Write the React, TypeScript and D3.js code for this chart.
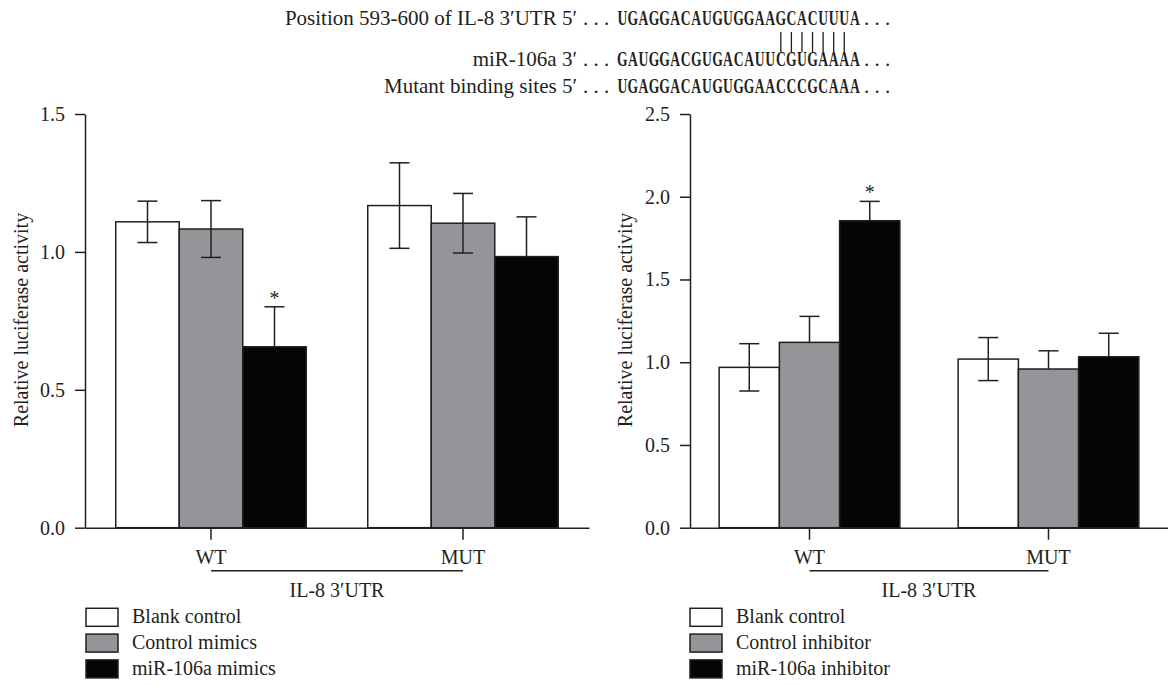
import React, { useRef, useEffect } from "react";
import * as d3 from "d3";

const groups = ["WT", "MUT"];

const mimicsSeries = ["Blank control", "Control mimics", "miR-106a mimics"];
const mimicsMeans = [
  [1.109, 1.083, 0.656],
  [1.168, 1.104, 0.983],
];
const mimicsErrors = [
  [0.075, 0.103, 0.145],
  [0.155, 0.108, 0.144],
];
const mimicsTicks = [0, 0.5, 1.0, 1.5];

const inhibitorSeries = ["Blank control", "Control inhibitor", "miR-106a inhibitor"];
const inhibitorMeans = [
  [0.969, 1.12, 1.855],
  [1.019, 0.959, 1.033],
];
const inhibitorErrors = [
  [0.143, 0.157, 0.117],
  [0.13, 0.11, 0.142],
];
const inhibitorTicks = [0, 0.5, 1.0, 1.5, 2.0, 2.5];

const seqWild = "UGAGGACAUGUGGAAGCACUUUA";
const seqMir = "GAUGGACGUGACAUUCGUGAAAA";
const seqMutant = "UGAGGACAUGUGGAACCCGCAAA";
const pairedFrom = 15;
const pairedTo = 21;

const fills = ["#ffffff", "#939598", "#050505"];
const INK = "#231f20";
const FONT = "'Liberation Serif', 'Times New Roman', serif";
const Y0 = 527.7;
const YTOP = 114;
const LABEL_END = 577;
const SEQ_X0 = 617;
const SEQ_PITCH = 10.57;

function Panel({ series, means, errors, lower, yMax, ticks, left, right, legendX, labelX }) {
  const xAxisRef = useRef<SVGGElement>(null);
  const yAxisRef = useRef<SVGGElement>(null);

  const x = d3.scaleBand().domain(groups).range([left, right]).paddingInner(0.244).paddingOuter(0.122);
  const xs = d3.scaleBand().domain(series).range([0, x.bandwidth()]);
  const y = d3.scaleLinear().domain([0, yMax]).range([Y0, YTOP]);

  useEffect(() => {
    const ya = d3.axisLeft(y).tickValues(ticks).tickSize(10).tickPadding(10).tickSizeOuter(0).tickFormat(d3.format(".1f"));
    const xa = d3.axisBottom(x).tickSize(12).tickPadding(10).tickSizeOuter(0);
    [d3.select(yAxisRef.current).call(ya), d3.select(xAxisRef.current).call(xa)].forEach((g: any) => {
      g.attr("font-family", FONT).attr("font-size", 20);
      g.selectAll("line, path").attr("stroke", INK).attr("stroke-width", 1.5);
      g.selectAll("text").attr("fill", INK);
    });
  });

  const cx = (g: string) => (x(g) as number) + x.bandwidth() / 2;
  const capW = 10;

  return (
    <g>
      {groups.map((g, gi) => (
        <g key={g} transform={`translate(${x(g)},0)`}>
          {series.map((s, si) => {
            const m = means[gi][si];
            const e = errors[gi][si];
            const bx = xs(s) as number;
            const mid = bx + xs.bandwidth() / 2;
            return (
              <g key={s}>
                <rect x={bx} y={y(m)} width={xs.bandwidth()} height={Y0 - y(m)} fill={fills[si]} stroke={INK} strokeWidth={1.5} />
                <line x1={mid} x2={mid} y1={y(m + e)} y2={lower[si] ? y(m - e) : y(m)} stroke={INK} strokeWidth={1.5} />
                <line x1={mid - capW} x2={mid + capW} y1={y(m + e)} y2={y(m + e)} stroke={INK} strokeWidth={1.5} />
                {lower[si] && (
                  <line x1={mid - capW} x2={mid + capW} y1={y(m - e)} y2={y(m - e)} stroke={INK} strokeWidth={1.5} />
                )}
                {gi === 0 && si === 2 && (
                  <text x={mid} y={y(m + e) - 2} textAnchor="middle" fontSize={20} fill={INK}>*</text>
                )}
              </g>
            );
          })}
        </g>
      ))}
      <g ref={yAxisRef} transform={`translate(${left},0)`} />
      <g ref={xAxisRef} transform={`translate(0,${Y0})`} />
      <line x1={cx("WT")} x2={cx("MUT")} y1={570.7} y2={570.7} stroke={INK} strokeWidth={1.5} />
      <text x={(cx("WT") + cx("MUT")) / 2} y={597} textAnchor="middle" fontSize={20} fill={INK}>IL-8 3′UTR</text>
      <text transform={`translate(${labelX},320) rotate(-90)`} textAnchor="middle" dominantBaseline="central" fontSize={20} fill={INK}>
        Relative luciferase activity
      </text>
      {series.map((s, si) => (
        <g key={s} transform={`translate(${legendX},${608.3 + si * 25.8})`}>
          <rect x={0} y={0} width={32} height={18} fill={fills[si]} stroke={INK} strokeWidth={1.5} />
          <text x={46} y={15} fontSize={20} fill={INK}>{s}</text>
        </g>
      ))}
    </g>
  );
}

function Sequence({ seq, y }) {
  return (
    <g>
      <text x={SEQ_X0 - 34} y={y} fontSize={21} fill={INK}>. . .</text>
      {seq.split("").map((c, i) => (
        <text key={i} transform={`translate(${SEQ_X0 + SEQ_PITCH * (i + 0.5)},${y}) scale(0.68,1)`} textAnchor="middle" fontSize={20} fontWeight="bold" fill={INK}>
          {c}
        </text>
      ))}
      <text x={SEQ_X0 + SEQ_PITCH * seq.length + 4} y={y} fontSize={21} fill={INK}>. . .</text>
    </g>
  );
}

export default function App() {
  const pairs = d3.range(pairedFrom, pairedTo + 1);
  return (
    <svg width={1168} height={685} style={{ position: "absolute", left: 0, top: 0, background: "#fff" }} fontFamily={FONT}>
      <text x={LABEL_END} y={25} textAnchor="end" fontSize={21} fill={INK}>Position 593-600 of IL-8 3′UTR 5′</text>
      <Sequence seq={seqWild} y={25} />
      {pairs.map((i) => (
        <line key={i} x1={SEQ_X0 + SEQ_PITCH * (i + 0.5)} x2={SEQ_X0 + SEQ_PITCH * (i + 0.5)} y1={32} y2={52} stroke={INK} strokeWidth={1.3} />
      ))}
      <text x={LABEL_END} y={66} textAnchor="end" fontSize={21} fill={INK}>miR-106a 3′</text>
      <Sequence seq={seqMir} y={66} />
      <text x={LABEL_END} y={93} textAnchor="end" fontSize={21} fill={INK}>Mutant binding sites 5′</text>
      <Sequence seq={seqMutant} y={93} />

      <Panel
        series={mimicsSeries}
        means={mimicsMeans}
        errors={mimicsErrors}
        lower={[true, true, false]}
        yMax={1.5}
        ticks={mimicsTicks}
        left={85}
        right={589}
        legendX={86}
        labelX={21}
      />
      <Panel
        series={inhibitorSeries}
        means={inhibitorMeans}
        errors={inhibitorErrors}
        lower={[true, false, false]}
        yMax={2.5}
        ticks={inhibitorTicks}
        left={690}
        right={1168}
        legendX={690}
        labelX={625}
      />
    </svg>
  );
}
